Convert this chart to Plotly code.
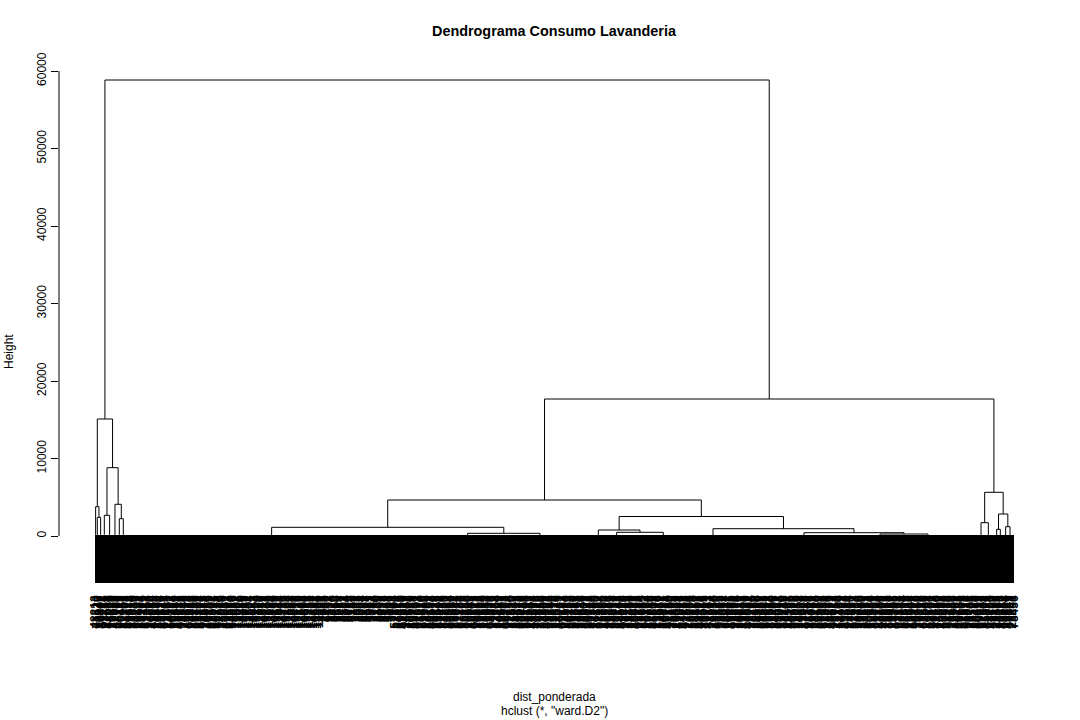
import plotly.graph_objects as go

# ---------------- data ----------------
# leaf groups, left to right: number of leaves, offset of the group's top node
# from its first leaf (R "midpoint"), and height of the dense block of merges
group_sizes = [14, 30, 36, 54, 66, 60, 48, 60, 3648, 1080, 660, 444, 216, 720,
               960, 840, 696, 924, 96, 120, 66, 54, 48, 84]
group_midpoints = [4, 10, 20, 28, 38, 36, 28, 28, 1748, 452, 240, 280, 56, 400,
                   276, 408, 480, 360, 72, 64, 44, 22, 32, 36]
group_heights = [160, 140, 150, 170, 150, 140, 160, 150, 120, 130, 110, 120, 130, 120,
                 110, 120, 110, 120, 150, 140, 120, 130, 110, 130]

# merge table in R hclust style (negative = leaf group, positive = earlier merge)
merge_left = [-2, -1, -4, -7, -6, 3, 2, -10, -9, -13, -12, -17, -16, -15, 11, 9,
              -19, -21, -23, 18, 17, 16, 7]
merge_right = [-3, 1, -5, -8, 4, 5, 6, -11, 8, -14, 10, -18, 12, 13, 14, 15,
               -20, -22, -24, 19, 20, 21, 22]
merge_height = [2413, 3781, 2671, 2232, 4090, 8813, 15097, 348, 1123, 477, 774, 258,
                426, 942, 2516, 4645, 1716, 865, 1200, 2839, 5639, 17677, 58839]

leaf_bottom = -6000

# leaf labels (a sample of the overlapping observation ids, in leaf order)
labels_a = """48213 71520 30947 86402 52118 93765 27684 64051 15839 79326
41097 58760 36215 90483 22951 67308 84172 49635 73014 31586
95247 60839 28471 53906 87125 19482 62357 34790 76014 45863
91238 26570 58194 83726 37041 69815 21463 74592 50387 96124
32659 85013 47286 63971 18540 72395 40628 57812 94036 29157
66430 81729 35804 53271 98645 24318 70956 46183 87502 31897
60245 15738 92416 38069 75920 43651 89207 27534 64819 52086""".split()
labels_b = """10482 13057 11926 14380 12215 10967 13742 11508 14921 12683
10254 13389 11770 12046 14512 10731 13268 11095 12874 14106
10358 13621 11447 12990 14735 10129 13804 11682 12357 14049
10816 13175 11239 12563 14468 10590 13912 11351 12728 14297
10043 13456 11860""".split()
labels_c = """4821 7305 2968 6142 9537 1874 5410 8263 3690 7018
2457 9781 6324 4096 8715 3152 5869 1407 7643 2289
9054 6731 4468 8327 1965 5582 3714 7190 2836 9408
6057 4673 8149 1523 5296 3981 7764""".split()
labels_d = """57208 83914 26471 69350 41826 94037 35162 78609 20945 63718
88251 47093 31674 75820 59416 92308 24759 68132 43587 86970
30218 71645 55093 97426 38751 64280 21937 80564 46319 73892
29048 91675 52734 67401 36829 84156 23590 75943 48207 62815
90372 33461 79128 57694 25813 86247 41930 68575 94716 37082
72364 54129 20687 83451 46978 65203 99134 32856 77510 51947
28315 89672 43029 70486 62741 35190 96523 24867 81304 58632
40275 74918 27563 92140 63809 49381 85726 31254 76093 53418
22679 88045 45731 69287 97564 34916 80153 56482 26730 93817
42065 71398 59824 38647 83209 65972 29341 90718 47586 74203
36850 61427 87394 25196 78063 43520 96871 31409 68254 52937
80712 27148 64593 49026 93380 36715 71852 58469 22093 85647
40931 67280 33514 79865 54102 96237 28790 62045 87319 45608
19873 73426 51962 84037 30581 68714 42269 97150 35893 76428
23605 89041 57316 64982 41753 92618 27094 75361 50829 83170
36452 69907 44218 98536 31065 60781 87243 52697 26314 78850
43129 91576 59403 34862 72018 65247 20971 86305 47638 93451
38276 74910 55682 29147 81093 63529 46801 97264 32715 70489
58136 24970 89352 41607 76843 53291 95018 37564 62930 28405
84671 45032 71896 59210 33748 96402 22567 68185 50739 87926
39014 74352 56807 21649 83925 47580 92163 35426 69071 53794
26138 80659 44902 77315 61048 98571 31276 65893 49327 90614
28753 72106 54469 36982 85237 43610 97084 24395 67851 52918
81364 39728 76045 58290 23617 94853 45172 70936 32509 88461
61723 27390 53146 99508 40872 75261 36914 64027 21583 87395
49702 93158 57831 30264 82619 46975 71382 25046 68597 54123
96780 33952 79416 41287 63540 28069 85734 52601 37193 90428
47856 74310 15697 82034 60428 37915 94276 51380 26843 73509
48162 89735 30651 67209 42978 95314 58047 21786 76592 34120
83467 50839 69213 27945 91508 45376 62084 38751 87620 53197
29436 74068 96315 41782 60954 32607 85149 57023 23891 78456""".split()
leaf_labels = labels_a + labels_b + labels_c + labels_d

y_ticks = [0, 10000, 20000, 30000, 40000, 50000, 60000]

title_text = "Dendrograma Consumo Lavanderia"
xlab_text = "dist_ponderada"
sub_text = 'hclust (*, "ward.D2")'
ylab_text = "Height"

# ---------------- build the tree geometry ----------------
starts = []
acc = 0
for n in group_sizes:
    starts.append(acc)
    acc += n
N = acc

grp_x = [s + m for s, m in zip(starts, group_midpoints)]
node_x = []
node_y = []


def pos(ref):
    if ref < 0:
        return grp_x[-ref - 1], group_heights[-ref - 1]
    return node_x[ref - 1], node_y[ref - 1]


lx, ly = [], []
for a, b, h in zip(merge_left, merge_right, merge_height):
    xa, ya = pos(a)
    xb, yb = pos(b)
    lx += [xa, xa, xb, xb, None]
    ly += [ya, h, h, yb, None]
    node_x.append((xa + xb) / 2)
    node_y.append(h)

fig = go.Figure()

# dense blocks of leaves
fig.add_trace(go.Bar(
    x=[s + n / 2 for s, n in zip(starts, group_sizes)],
    y=[h - leaf_bottom for h in group_heights],
    base=[leaf_bottom] * len(group_sizes),
    width=group_sizes,
    marker=dict(color="black", line=dict(width=0)),
    hoverinfo="skip",
    showlegend=False,
))

# dendrogram branches
fig.add_trace(go.Scatter(
    x=lx, y=ly, mode="lines",
    line=dict(color="black", width=1),
    hoverinfo="skip", showlegend=False,
))

L = len(leaf_labels)
label_pos = [round(j * (N - 1) / (L - 1)) + 0.5 for j in range(L)]

# plot area geometry (pixels)
left_px, right_px, top_px, bottom_px = 59, 1050, 60, 588
W = 1080
H = 720
leaf0_px = 95.3
px_per_leaf = (1014 - leaf0_px) / N
x_min = -(leaf0_px - left_px) / px_per_leaf
x_max = x_min + (right_px - left_px) / px_per_leaf

y0_px, y60_px = 536, 71
u_per_px = 60000 / (y0_px - y60_px)
y_min = -(bottom_px - y0_px) * u_per_px
y_max = (y0_px - top_px) * u_per_px

font_family = "Liberation Sans, Arial, sans-serif"

fig.update_layout(
    width=W, height=H,
    margin=dict(l=left_px, r=W - right_px, t=top_px, b=H - bottom_px, pad=0),
    plot_bgcolor="white", paper_bgcolor="white",
    font=dict(family=font_family, size=12, color="black"),
    bargap=0,
    xaxis=dict(
        range=[x_min, x_max], showgrid=False, zeroline=False, showline=False,
        tickmode="array", tickvals=label_pos, ticktext=leaf_labels,
        tickangle=-90, ticks="",
        tickfont=dict(size=12, color="black", weight="bold"),
        ticklabelstandoff=4,
        automargin=False, fixedrange=True,
    ),
    yaxis=dict(
        range=[y_min, y_max], showgrid=False, zeroline=False, showline=False,
        tickmode="array", tickvals=y_ticks, ticktext=[str(v) for v in y_ticks],
        tickangle=-90, ticks="outside", ticklen=7, tickcolor="black", tickwidth=1,
        tickfont=dict(size=12, color="black"), automargin=False, fixedrange=True,
    ),
    shapes=[dict(type="line", xref="paper", yref="y", x0=0, x1=0,
                 y0=y_ticks[0], y1=y_ticks[-1], line=dict(color="black", width=1))],
)


def px2paper_x(px):
    return (px - left_px) / (right_px - left_px)


def px2paper_y(py):
    return (bottom_px - py) / (bottom_px - top_px)


cx = px2paper_x(554.5)
fig.add_annotation(text="<b>" + title_text + "</b>", x=cx, y=px2paper_y(31),
                   xref="paper", yref="paper", showarrow=False,
                   xanchor="center", yanchor="middle", font=dict(size=14.4))
fig.add_annotation(text=xlab_text, x=cx, y=px2paper_y(697), xref="paper", yref="paper",
                   showarrow=False, xanchor="center", yanchor="middle", font=dict(size=12))
fig.add_annotation(text=sub_text, x=cx, y=px2paper_y(711), xref="paper", yref="paper",
                   showarrow=False, xanchor="center", yanchor="middle", font=dict(size=12))
fig.add_annotation(text=ylab_text, x=px2paper_x(9), y=px2paper_y(352), xref="paper",
                   yref="paper", showarrow=False, textangle=-90,
                   xanchor="center", yanchor="middle", font=dict(size=12))

fig.write_html("out.html")
